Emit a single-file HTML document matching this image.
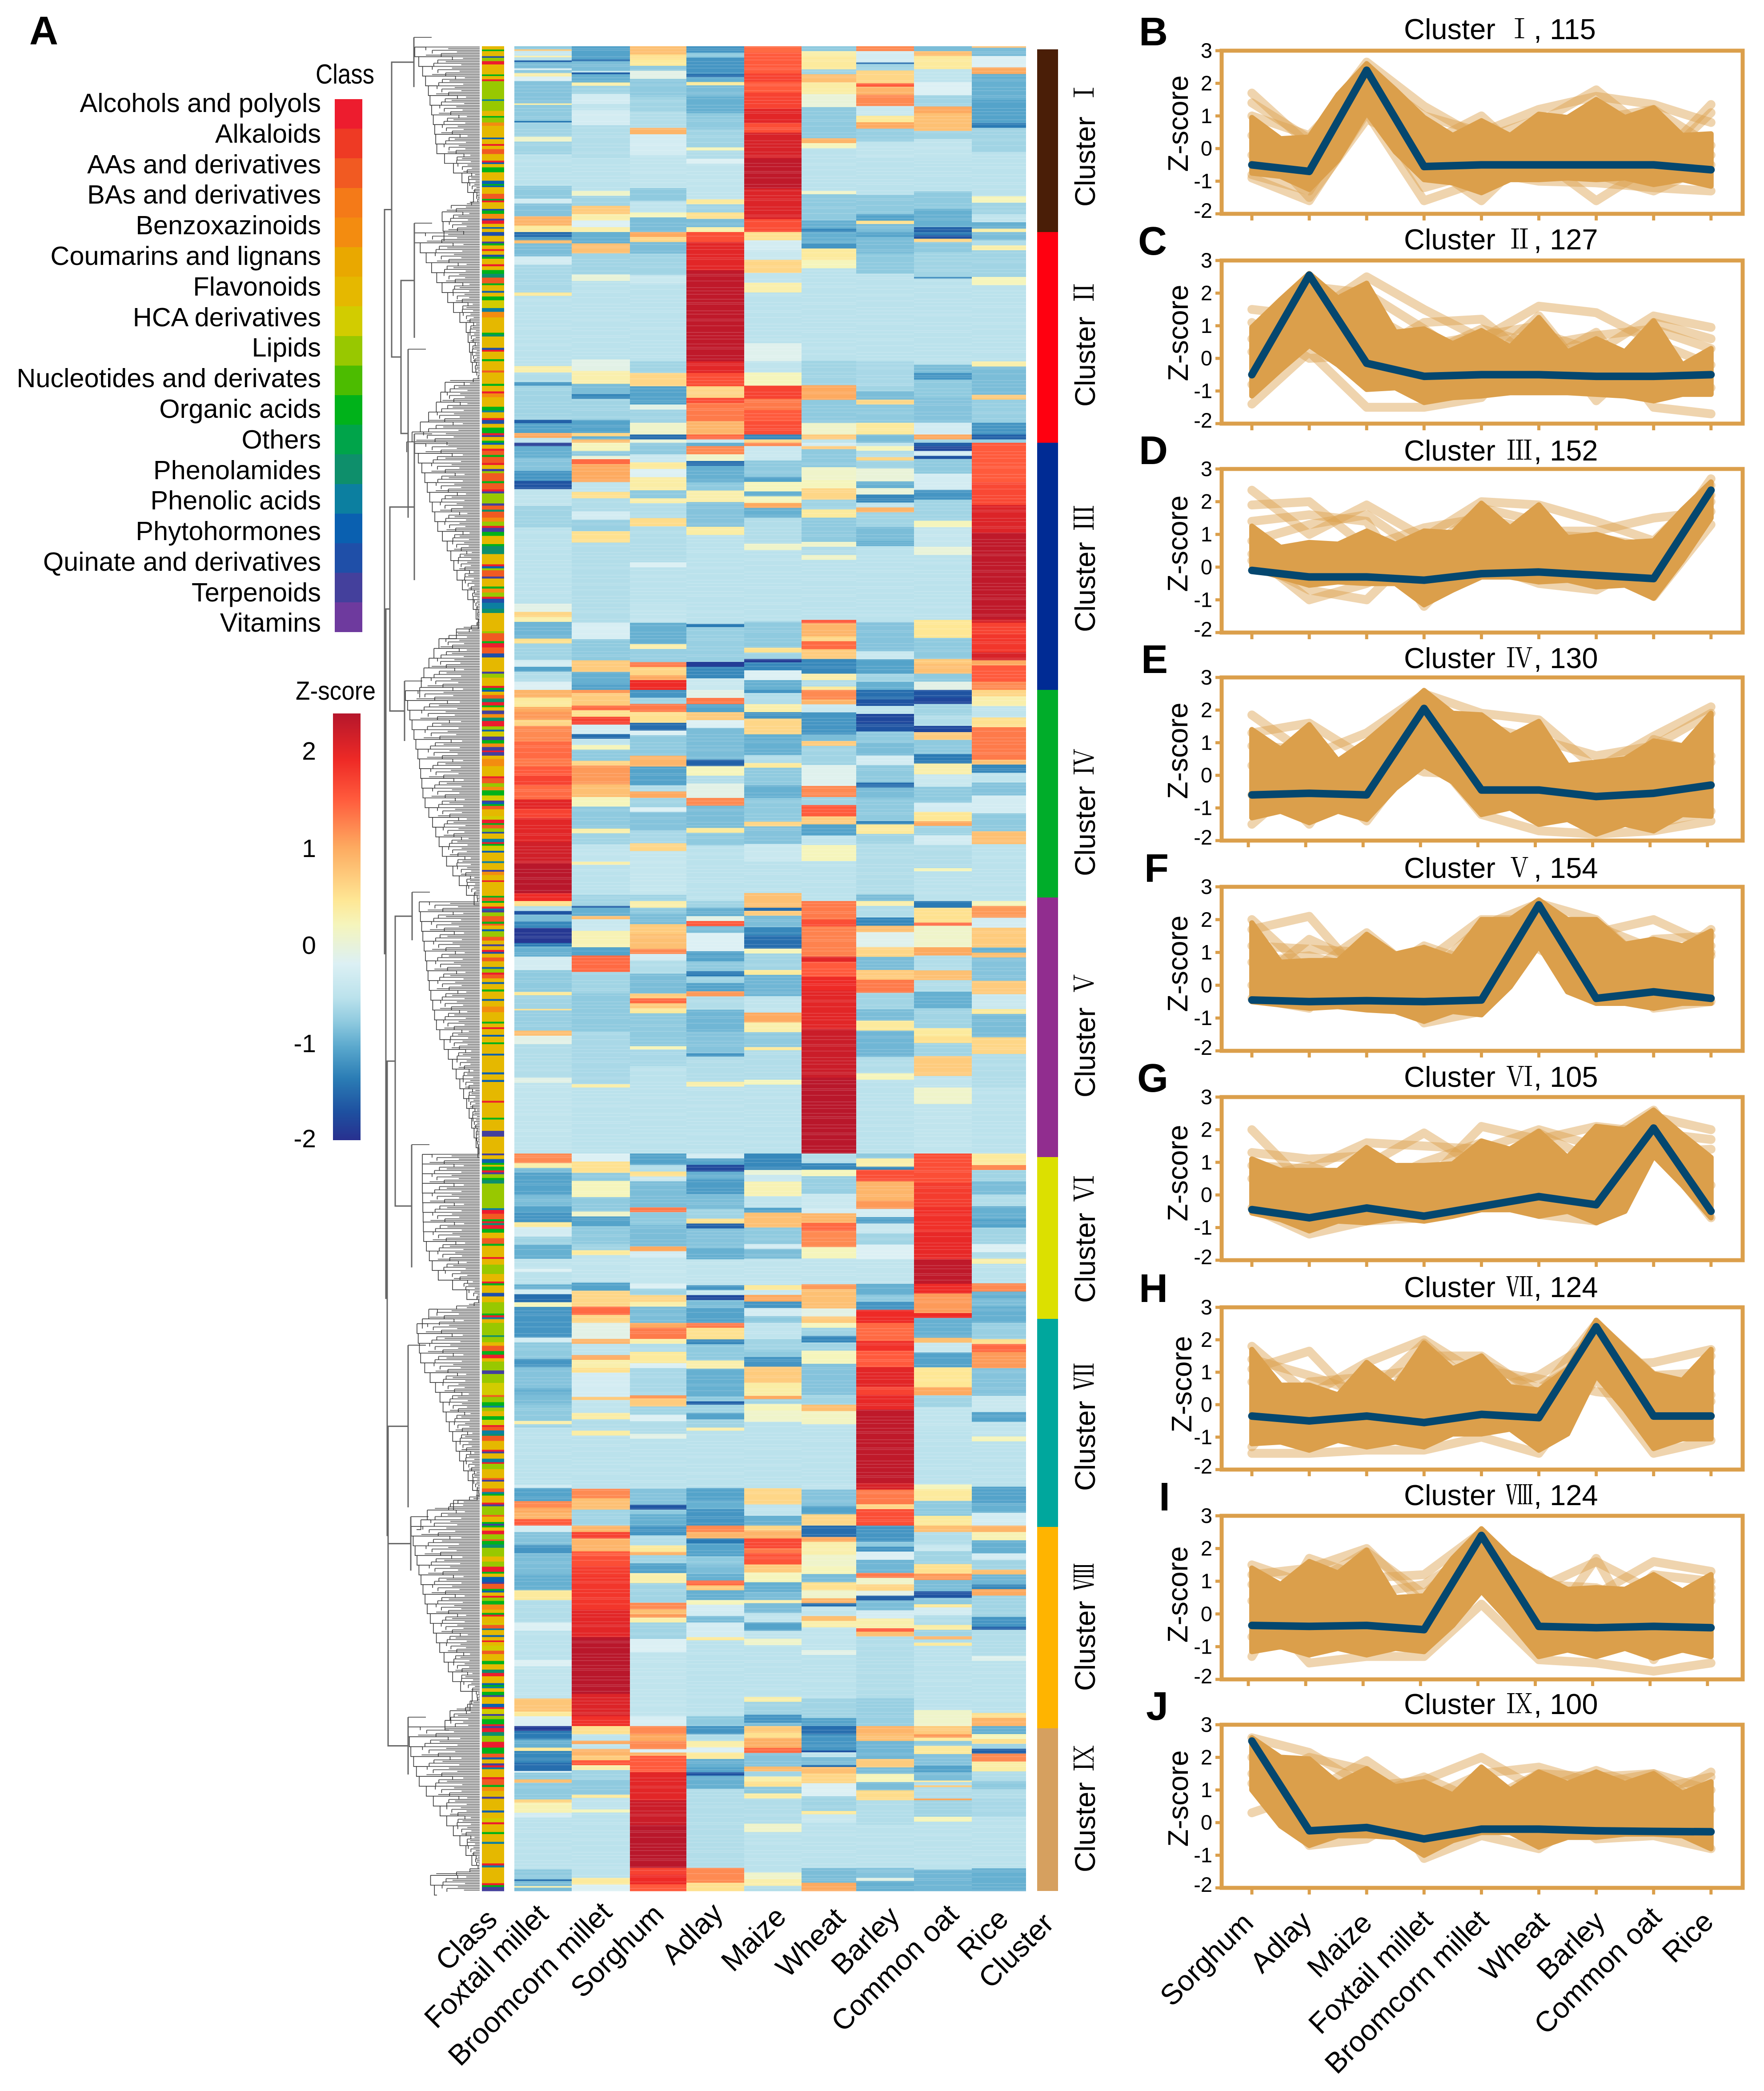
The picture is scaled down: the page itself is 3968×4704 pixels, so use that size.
<!DOCTYPE html>
<html lang="en">
<head>
<meta charset="utf-8">
<title>Metabolite clusters heatmap and Z-score profiles</title>
<style>
html,body{margin:0;padding:0;background:#fff;}
svg{display:block;}
text{font-family:"Liberation Sans","Noto Sans CJK SC",sans-serif;fill:#000;}
.roman{font-family:"Noto Serif CJK SC","Liberation Serif",serif;}
.letter{font-size:90px;font-weight:bold;}
.legend{font-size:59.5px;text-anchor:end;}
.title{font-size:65px;}
.ytitle{font-size:64px;text-anchor:middle;}
.rot{font-size:65px;text-anchor:end;}
.ztick{font-size:57px;text-anchor:end;}
</style>
</head>
<body>
<svg id="fig" xmlns="http://www.w3.org/2000/svg" width="3968" height="4704" viewBox="0 0 3968 4704">
<rect width="3968" height="4704" fill="#fff"/>
<g id="dendro"></g>
<g id="classStrip" shape-rendering="crispEdges"></g>
<g id="heat" shape-rendering="crispEdges"></g>
<g id="heatTexture"></g>
<g id="clusterBar" shape-rendering="crispEdges"></g>
<g id="classLegend" shape-rendering="crispEdges"></g>
<defs><linearGradient id="zGrad" x1="0" y1="0" x2="0" y2="1"></linearGradient></defs>
<rect x="749" y="1605" width="62" height="960" fill="url(#zGrad)"/>
<g id="panels"></g>

<g>
<text class="letter" x="66" y="100">A</text>
<text class="letter" x="2562" y="102">B</text>
<text class="letter" x="2560" y="573">C</text>
<text class="letter" x="2562" y="1044">D</text>
<text class="letter" x="2567" y="1514">E</text>
<text class="letter" x="2574" y="1984">F</text>
<text class="letter" x="2558" y="2456">G</text>
<text class="letter" x="2562" y="2929">H</text>
<text class="letter" x="2607" y="3398">I</text>
<text class="letter" x="2578" y="3869">J</text>
</g>

<g>
<text x="710" y="188" font-size="62" textLength="132" lengthAdjust="spacingAndGlyphs">Class</text>
<text class="legend" x="722" y="252">Alcohols and polyols</text>
<text class="legend" x="722" y="321">Alkaloids</text>
<text class="legend" x="722" y="390">AAs and derivatives</text>
<text class="legend" x="722" y="458">BAs and derivatives</text>
<text class="legend" x="722" y="527">Benzoxazinoids</text>
<text class="legend" x="722" y="596">Coumarins and lignans</text>
<text class="legend" x="722" y="665">Flavonoids</text>
<text class="legend" x="722" y="734">HCA derivatives</text>
<text class="legend" x="722" y="802">Lipids</text>
<text class="legend" x="722" y="871">Nucleotides and derivates</text>
<text class="legend" x="722" y="940">Organic acids</text>
<text class="legend" x="722" y="1009">Others</text>
<text class="legend" x="722" y="1078">Phenolamides</text>
<text class="legend" x="722" y="1146">Phenolic acids</text>
<text class="legend" x="722" y="1215">Phytohormones</text>
<text class="legend" x="722" y="1284">Quinate and derivatives</text>
<text class="legend" x="722" y="1353">Terpenoids</text>
<text class="legend" x="722" y="1421">Vitamins</text>
</g>

<g>
<text x="665" y="1574" font-size="58" textLength="180" lengthAdjust="spacingAndGlyphs">Z-score</text>
<text class="ztick" x="711" y="1709">2</text>
<text class="ztick" x="711" y="1928">1</text>
<text class="ztick" x="711" y="2146">0</text>
<text class="ztick" x="711" y="2367">-1</text>
<text class="ztick" x="711" y="2581">-2</text>
</g>

<g>
<text class="rot" transform="translate(1122,4322) rotate(-45)">Class</text>
<text class="rot" transform="translate(1237,4311) rotate(-45)">Foxtail millet</text>
<text class="rot" transform="translate(1380,4306) rotate(-45)">Broomcorn millet</text>
<text class="rot" transform="translate(1497,4311) rotate(-45)">Sorghum</text>
<text class="rot" transform="translate(1630,4308) rotate(-45)">Adlay</text>
<text class="rot" transform="translate(1772,4316) rotate(-45)">Maize</text>
<text class="rot" transform="translate(1905,4319) rotate(-45)">Wheat</text>
<text class="rot" transform="translate(2027,4316) rotate(-45)">Barley</text>
<text class="rot" transform="translate(2160,4311) rotate(-45)">Common oat</text>
<text class="rot" transform="translate(2272,4321) rotate(-45)">Rice</text>
<text class="rot" transform="translate(2374,4331) rotate(-45)">Cluster</text>
</g>

<g>
<text font-size="64" transform="translate(2463,465) rotate(-90)">Cluster</text>
<text class="roman" font-size="60" text-anchor="middle" transform="translate(2460,208) rotate(-90)">Ⅰ</text>
<text font-size="64" transform="translate(2463,915) rotate(-90)">Cluster</text>
<text class="roman" font-size="60" text-anchor="middle" transform="translate(2460,658) rotate(-90)">Ⅱ</text>
<text font-size="64" transform="translate(2463,1422) rotate(-90)">Cluster</text>
<text class="roman" font-size="60" text-anchor="middle" transform="translate(2460,1165) rotate(-90)">Ⅲ</text>
<text font-size="64" transform="translate(2463,1971) rotate(-90)">Cluster</text>
<text class="roman" font-size="60" text-anchor="middle" transform="translate(2460,1714) rotate(-90)">Ⅳ</text>
<text font-size="64" transform="translate(2463,2469) rotate(-90)">Cluster</text>
<text class="roman" font-size="60" text-anchor="middle" transform="translate(2460,2212) rotate(-90)">Ⅴ</text>
<text font-size="64" transform="translate(2463,2931) rotate(-90)">Cluster</text>
<text class="roman" font-size="60" text-anchor="middle" transform="translate(2460,2674) rotate(-90)">Ⅵ</text>
<text font-size="64" transform="translate(2463,3354) rotate(-90)">Cluster</text>
<text class="roman" font-size="60" text-anchor="middle" transform="translate(2460,3097) rotate(-90)">Ⅶ</text>
<text font-size="64" transform="translate(2463,3804) rotate(-90)">Cluster</text>
<text class="roman" font-size="60" text-anchor="middle" transform="translate(2460,3547) rotate(-90)">Ⅷ</text>
<text font-size="64" transform="translate(2463,4212) rotate(-90)">Cluster</text>
<text class="roman" font-size="60" text-anchor="middle" transform="translate(2460,3955) rotate(-90)">Ⅸ</text>
</g>

<g>
<text class="title" x="3158" y="88">Cluster</text><text class="roman" font-size="60" text-anchor="middle" x="3418" y="86">Ⅰ</text><text class="title" x="3450" y="88">, 115</text>
<text class="title" x="3158" y="561">Cluster</text><text class="roman" font-size="60" text-anchor="middle" x="3418" y="559">Ⅱ</text><text class="title" x="3450" y="561">, 127</text>
<text class="title" x="3158" y="1036">Cluster</text><text class="roman" font-size="60" text-anchor="middle" x="3418" y="1034">Ⅲ</text><text class="title" x="3450" y="1036">, 152</text>
<text class="title" x="3158" y="1503">Cluster</text><text class="roman" font-size="60" text-anchor="middle" x="3418" y="1501">Ⅳ</text><text class="title" x="3450" y="1503">, 130</text>
<text class="title" x="3158" y="1975">Cluster</text><text class="roman" font-size="60" text-anchor="middle" x="3418" y="1973">Ⅴ</text><text class="title" x="3450" y="1975">, 154</text>
<text class="title" x="3158" y="2445">Cluster</text><text class="roman" font-size="60" text-anchor="middle" x="3418" y="2443">Ⅵ</text><text class="title" x="3450" y="2445">, 105</text>
<text class="title" x="3158" y="2918">Cluster</text><text class="roman" font-size="60" text-anchor="middle" x="3418" y="2916">Ⅶ</text><text class="title" x="3450" y="2918">, 124</text>
<text class="title" x="3158" y="3386">Cluster</text><text class="roman" font-size="60" text-anchor="middle" x="3418" y="3384">Ⅷ</text><text class="title" x="3450" y="3386">, 124</text>
<text class="title" x="3158" y="3856">Cluster</text><text class="roman" font-size="60" text-anchor="middle" x="3418" y="3854">Ⅸ</text><text class="title" x="3450" y="3856">, 100</text>
</g>

<g>
<text class="ytitle" transform="translate(2672,278) rotate(-90)">Z-score</text>
<text class="ytitle" transform="translate(2672,749) rotate(-90)">Z-score</text>
<text class="ytitle" transform="translate(2671,1223) rotate(-90)">Z-score</text>
<text class="ytitle" transform="translate(2671,1689) rotate(-90)">Z-score</text>
<text class="ytitle" transform="translate(2671,2168) rotate(-90)">Z-score</text>
<text class="ytitle" transform="translate(2671,2639) rotate(-90)">Z-score</text>
<text class="ytitle" transform="translate(2680,3114) rotate(-90)">Z-score</text>
<text class="ytitle" transform="translate(2671,3587) rotate(-90)">Z-score</text>
<text class="ytitle" transform="translate(2672,4046) rotate(-90)">Z-score</text>
</g>

<g>
<text class="rot" transform="translate(2823,4330) rotate(-45)">Sorghum</text>
<text class="rot" transform="translate(2954,4327) rotate(-45)">Adlay</text>
<text class="rot" transform="translate(3090,4330) rotate(-45)">Maize</text>
<text class="rot" transform="translate(3226,4324) rotate(-45)">Foxtail millet</text>
<text class="rot" transform="translate(3352,4324) rotate(-45)">Broomcorn millet</text>
<text class="rot" transform="translate(3488,4327) rotate(-45)">Wheat</text>
<text class="rot" transform="translate(3614,4327) rotate(-45)">Barley</text>
<text class="rot" transform="translate(3741,4317) rotate(-45)">Common oat</text>
<text class="rot" transform="translate(3858,4327) rotate(-45)">Rice</text>
</g>
</svg>

<script>
// ===== Heatmap values: each column has nine clusters, each a flat list of z,rows pairs =====
const foxtailMillet = [
[-.8,2,.7,1,-.4,3,.3,1,-.6,2,-1.6,1,-.9,4,-.2,1,-.8,2,.3,2,-.2,3,-.85,14,.3,1,-.8,10,-1.4,1,-.7,9,.1,3,-.7,8,-.55,20,-.8,8,-.3,3,-.85,8,.9,6,.4,4],
[-1.5,3,-1.2,2,.8,2,-.9,8,-.3,5,-.65,17,.4,2,-.55,43,.3,4,-.6,6,-1.2,2,-.7,21,-1.6,2,-1.1,6,1,3,-.5,3],
[-1.9,2,-1,7,-.85,8,-1.2,6,-1.7,5,-.5,10,-.7,6,-.7,7,-.55,46,-.1,5,.6,3,.3,3,-.95,10,.5,3,-.7,10,-.3,4,-1.1,3,-.6,6,-.2,5],
[.9,5,.4,6,1,3,1.1,5,.6,4,1.2,6,1.2,4,1.4,11,1.3,5,1.5,6,1.7,6,1.4,9,2,6,1.7,6,2,15,2.15,14,2.35,19,1.9,5],
[.5,3,-.6,3,-1.7,2,-.9,4,-1.3,4,-1.95,9,-1.4,2,-1,6,-.3,8,-.8,13,.4,2,-.7,8,.5,1,-.75,12,.8,3,-.1,5,-.6,20,-.1,3,-.5,42],
[1.2,6,.3,3,-.9,3,-1.1,14,-.9,7,-1.1,4,-1.2,6,.4,3,-.3,6,-.7,5,-1,9,-.5,6,-.2,2,-.55,8,-1,3,-.3,3,-1.5,5,.2,3,-1.2,10],
[-1.2,9,-.3,3,-.8,10,-1.2,5,-.85,13,-1,4,-.9,6,-.8,10,.3,2,-.7,2,-.55,35,-.3,2,-1.1,8,1.2,4,1,3,.9,4,1.5,4],
[-.3,4,-.85,8,-1.2,5,-.9,13,-1,10,.4,6,-.6,14,-.2,5,-.55,18,-.2,4,-.5,20,.75,8,.4,3,-.2,6],
[-1.9,3,-1.4,1,-1.4,4,-1,5,.4,2,-1.3,7,-1.5,5,-.3,1,-.8,4,.8,2,-.8,10,.6,2,.25,6,-.3,3,-.55,31,-.8,6,-1.5,1,-.9,3,.3,1,-.9,2]
];
const broomcornMillet = [
[-1.1,8,-1.5,1,-.9,6,-.5,1,-1.6,1,-1,5,.3,2,-.7,5,-.3,6,-.5,4,-.3,9,-.6,10,-.6,10,-.55,20,.1,3,-.7,6,.7,5,.3,4,-.2,4,.3,3],
[-1,7,.8,6,-.7,13,0,4,-.55,48,-.1,7,.3,8,-.9,6,-1.3,3,-.7,13,-1.1,8,.6,2,-1,2,.8,2],
[.2,5,-.8,3,0,2,1.4,3,1,11,-.5,6,.5,4,-.6,8,-.3,5,-.75,7,.5,7,-.6,49,-.25,10,-.8,13,.7,7,-1,7,-1.1,4],
[1.1,2,.7,8,1.4,3,.5,4,1.7,5,-.3,6,-1.5,3,-.5,4,.2,3,-.8,7,.6,3,1.1,12,.8,8,.2,6,-.8,14,.3,3,-.7,7,-.5,11,.3,2,-.55,19,-.7,4],
[-.7,3,-1.6,1,-1,5,.8,2,-.4,7,.25,10,-1.1,5,1.4,10,-.7,13,-.8,23,-.65,32,.3,2,-.55,40],
[-.2,5,.5,7,-.8,5,.2,10,-.8,9,.1,3,-1.1,6,-.8,11,-.7,4,.4,3,-.5,17,-1.1,5,.6,10,1.4,5,.6,5],
[-.1,10,.9,3,-.5,7,1,3,.3,5,.5,3,-.3,15,.7,2,-.5,8,.35,4,-.6,7,.35,3,-.55,33,1.2,6,.8,7,-.7,10],
[.9,4,1.7,4,.9,8,1.5,3,1.6,6,1.75,6,1.8,15,1.8,6,2,17,2.35,35,2.05,14,1.85,6],
[.5,5,-.5,4,1,2,-.5,3,.9,4,.7,3,1.5,3,.3,3,-.7,6,-.8,9,.4,2,-.5,7,.2,2,-.55,40,.4,4,-.2,4]
];
const sorghum = [
[.8,5,.5,3,.4,4,-.8,3,-.1,5,-.8,11,-.7,9,-.6,10,.9,4,-.3,13,-.5,20,-.8,8,-.5,7,.2,3,-.9,9],
[1,3,.6,3,-.9,7,-.7,13,-.4,5,-.55,47,-.7,7,.6,8,-1.1,11,-.1,3,-.7,8,.1,7,-1.5,3,0,2],
[-.8,7,-.4,5,.4,4,-.2,5,.35,8,-.8,5,.3,3,-.6,9,.55,5,-.6,22,-.2,3,-.55,23,-.5,11,-1,13,.3,3,-.75,8,1.3,3,.6,5,1,3,1.9,6],
[-1.2,5,-.7,4,1.3,5,.5,7,-1.5,5,-.2,3,-.8,13,.9,7,-1.1,12,-.6,4,1,4,-.7,6,-.2,3,-.85,12,-.65,8,.6,5,-.45,28,-.7,4],
[.3,4,-.8,4,-.9,6,.7,6,.8,9,1.2,3,-.3,4,-.6,8,-.9,12,.7,3,1.4,3,.7,3,.4,3,-.8,20,.2,2,-.65,10,-.55,53],
[-1.1,7,-.6,4,.5,3,-.4,3,-.9,16,1.3,3,-.8,8,-.9,13,1,3,-.3,4,-.45,16,-.2,3,-.7,4,.6,4,.3,3,-.9,10],
[1,3,1.3,7,.3,3,-.6,5,.4,7,-.2,3,-.65,17,1.1,2,.7,5,-.7,5,-.2,4,-.6,8,-.1,3,-.55,31,-.85,10,-1.7,3,-.8,3,-1,7],
[-1.2,6,-.6,6,.4,4,.9,2,-.7,5,-1.1,6,.3,6,-.7,12,1.2,4,.8,3,1.1,2,.3,3,-.7,10,-.2,8,-.5,39,-.25,6],
[1.2,5,1,4,1.2,5,-.2,2,.9,2,1.5,10,2,17,2.2,15,2.35,26,1.7,4,1.9,6,1.5,4]
];
const adlay = [
[-1.2,4,-.8,3,-1.2,10,-1.5,2,-1,3,.4,2,-.9,7,-1,10,-.8,10,-.7,11,.2,2,-.6,5,-.2,3,-.5,22,.4,3,-.7,5,.5,4,-.9,5,.3,3],
[1.6,6,2,17,2.3,55,2,7,1.6,8,.6,7,1.6,3,1.3,11,.9,8,1.4,3,-.4,2],
[-1,2,1.2,5,.1,4,-1.5,3,-1,10,-.8,5,.3,7,-.85,15,.35,5,-.55,54,-1.4,2,-.75,21,-1.9,3,-1.3,7,-.4,7],
[-.1,5,1.3,4,-1.1,5,.7,5,-.2,5,-.9,11,-.9,9,-1.6,4,.2,6,-.6,5,-.1,9,1.2,5,-.9,14,.4,3,-.8,8,-.55,35],
[-.7,4,-1,5,-.1,3,1.5,3,-.9,4,-.2,11,-1.1,6,-.8,6,-1.4,3,-.7,4,-1.1,5,1.1,3,-.6,8,-.95,13,-.85,13,-1.2,2,-.6,15,.3,3,-.55,40],
[-.3,3,-1.1,4,-1.8,4,-1,5,-1.15,9,-.9,9,-.7,6,.5,3,-1.6,3,-.85,12,-1,7,-.5,16,-1.2,3,-.4,3,-1.8,3,-.9,5,-1.1,9],
[1.3,3,.5,7,-1.3,3,-.8,10,.3,5,-1,12,-1,5,-.8,3,-1.6,2,-.7,5,-1.1,4,-.7,5,.3,2,-.55,35,-1.1,8,-1,5,-1.2,10],
[1.2,4,.9,4,-1.4,3,-1.1,8,-.8,5,-.9,6,-1,4,1.4,3,.7,3,-1,6,.2,3,-.3,7,-.9,4,-.3,9,.4,2,-.55,47,-.8,6],
[-1.2,5,-.6,4,.3,4,-.2,3,.4,4,-1,5,-1.1,3,-1.7,2,-1,8,-.6,48,1.2,9,.5,5]
];
const maize = [
[1.4,4,1.5,4,1.5,9,1.7,5,1.5,7,1.7,10,2,9,1.6,6,2.1,16,2.3,19,2.05,19,1.6,8],
[.5,5,-.3,6,-.4,6,.6,8,-.5,6,.3,6,-.55,31,-.15,11,-.5,7,.2,8,1.7,8,1.3,7,1.5,7,1.6,8,-1.3,3,.6,2],
[1.2,2,-.4,9,-.8,10,-1.1,3,.2,6,-1,3,.2,4,1,3,-1,6,-.6,16,.1,4,-.55,44,-.8,16,.5,3,-.7,4,-1.9,2,-1.3,5,-.2,6,-1,6],
[-1.2,2,-.6,7,.3,5,-1.2,4,.6,10,-1,13,-.6,5,.4,3,-.8,11,-1,8,-.8,15,.6,3,-.85,11,-.4,11,-.55,20,.8,5],
[.8,4,-1.5,2,.7,3,-.9,7,-1.3,5,-1.5,8,.2,3,-.7,10,.4,3,-.95,13,-.5,10,1,6,.3,6,-.8,9,.4,2,-.6,18,.2,3,-.55,42],
[-1.3,10,0,3,-.4,4,.25,9,-.5,7,-1.1,3,.8,9,-.8,10,-.3,3,-.9,6,-.5,16,.4,3,-.4,3,1,4,-1.2,4,-.3,5,-.8,4],
[-.5,3,-.5,7,-.7,7,-.8,4,-1.2,6,.7,10,.35,8,1,2,-.7,3,.2,4,.1,7,-.55,41,.6,10,-.5,7,-1,6],
[.6,3,.9,5,1.65,6,1.3,3,1.55,7,.7,5,.2,6,-1,6,-.9,5,.3,2,-.9,6,-.5,6,-1.1,5,-.5,5,.1,4,-.55,32,.3,3,-.7,8,-1.2,5,-.9,2],
[.7,4,.5,3,.95,6,1.4,3,-.85,8,.85,3,-.7,3,.3,3,.5,3,-.8,4,.35,3,-.6,15,.1,5,-.55,24,.1,4,.3,4,-.6,3]
];
const wheat = [
[-.8,3,.3,3,.4,8,-.7,3,.8,5,.35,7,0,8,-.8,19,.9,3,.2,3,-.55,26,.1,2,-.8,16,-1,5,-1.3,2],
[-1,7,-1.2,3,.4,7,.2,5,-.55,56,-.7,15,1,9,-.8,14,.1,7,.7,3,-.5,2],
[-.3,2,.7,2,-.8,11,.1,8,.2,5,.6,7,-.7,6,.4,5,-.8,15,.1,3,-.6,5,.1,3,-.55,37,1.5,2,.9,8,.6,3,1.4,5,.7,6,-1.3,9,.3,4,-.6,4,.4,2],
[1.2,6,.9,3,-.4,5,-1.2,14,-.9,4,.7,3,-.7,12,-.15,13,1.2,7,-.7,5,1.5,7,.7,5,-1.1,7,-.5,6,.2,10,-.55,25],
[1.3,11,1.6,4,1.25,18,2,3,1.5,9,1.9,8,2,23,2.2,29,2.35,45],
[-.6,6,-1.3,4,.2,4,-.75,11,-.4,9,-.3,3,.9,6,1.4,5,1.2,10,.2,7,-.5,16,1.1,3,.8,12,-.1,5,.7,4],
[.2,3,-.7,5,-1.3,4,-.7,5,.2,8,-.85,19,-.7,6,.8,4,.15,8,-.55,37,-.5,3,-.85,10,-1.1,5,.6,7],
[-1.5,7,1,3,.3,8,.1,7,.2,5,-.9,5,.5,5,.1,5,.9,3,-1.5,2,-.5,6,.8,3,.3,4,-.5,14,-.1,3,-.55,27,-.7,12,-1.1,5],
[-1.5,5,-1.2,2,-1.2,8,-1.7,1,-.5,3,-.9,5,-1.5,1,.8,4,.6,6,-.2,8,-.7,9,.4,2,-.4,5,-.55,28,-.9,9,1,5]
];
const barley = [
[1.2,3,-.3,7,-1.5,1,-.7,4,.6,3,.6,5,1.5,2,.9,5,1.2,7,-.4,6,.4,4,1,4,-.75,8,-.5,10,-.55,23,-.8,12,-1.1,4,.5,2,-.9,5],
[-1.1,3,-.9,10,-.8,12,-.55,53,-.65,15,-.7,3,-.9,5,.6,3,-.8,11,.4,7,-.9,5],
[-.5,2,.2,3,-.6,4,.6,2,-.7,5,0,8,-1,4,0,4,-1.3,5,-.5,3,.9,3,-.7,9,-.9,9,-1,3,-.55,47,-.85,18,-.4,5,-1.1,9,-.7,5,-1,5],
[-1.5,6,-1.7,4,-.5,5,-1.8,6,-1.7,5,-.8,7,-.9,8,-.3,6,-.8,11,-1.5,3,-.9,7,-.8,14,-1.3,2,.4,6,-.7,6,-.6,32,-.9,4],
[.3,3,-.6,7,-1.3,5,.8,4,-.15,9,.6,6,-.9,8,.7,6,1.3,8,-.7,10,-.9,7,.4,6,-.95,16,-.6,10,.2,4,-.55,45],
[-.8,3,.3,5,-1.3,2,1.6,7,.9,12,1.1,5,-.3,5,-1.1,4,-.4,6,-.7,7,-.2,9,-.5,15,-1,7,-.8,4,-1.2,5,1.9,8],
[1.4,11,1.85,6,1.5,10,2,12,1.7,5,1.95,9,2.3,45,2.1,4,1.3,9,.6,3,1.6,10],
[-1.2,10,-.8,3,-1.2,3,-.2,5,-.95,8,1.3,3,.1,4,.6,4,-.1,3,-1.6,3,-.9,6,-.3,5,.3,6,1.5,2,.8,3,-.6,38,-.75,17],
[.9,5,.8,4,-.95,11,.7,5,-.9,4,.2,5,-.9,5,.55,6,-.6,15,-.55,26,-.85,6,-.1,2,-1,6]
];
const commonOat = [
[-.9,3,.8,3,.4,8,-.5,8,-.2,8,-.7,7,1,4,.8,11,-.7,5,-.5,12,-.55,20,-.8,11,-1,11,-1.6,3],
[-1.4,2,-1.7,2,.6,2,-.8,6,-.7,15,-1.3,1,-.55,52,-.9,5,-1.2,4,-.8,11,-.85,15,-.3,7,1,3,-.7,2],
[-1.6,2,-1.8,3,-.3,3,-1.7,2,-.8,9,-.3,6,-.3,4,-1.2,6,-.7,13,.2,4,-.45,12,0,5,-.55,40,.45,11,-.8,13,.7,3,.8,6,-.8,5,-.1,5],
[-1.7,5,-1.8,4,-.7,7,-.6,7,-1.8,4,.7,5,-.8,9,-1.4,6,.3,7,-.4,8,-.8,10,-.3,6,.45,6,1,3,-.7,6,-.3,6,-.6,15,.2,2,-.55,19],
[-1.4,4,.5,9,1.4,2,.1,13,1,5,-.6,9,.8,6,-.6,7,-1,10,-.7,12,.4,5,.5,4,-.7,8,.7,12,-.5,7,.1,10,-.5,30],
[1.6,18,1.75,15,1.85,15,1.95,17,2.3,15,1.9,6,1.1,12,1.9,3,-1,3],
[-1,9,.8,3,-.4,6,-1.1,9,.45,12,1,5,-.7,7,-.5,14,-.55,33,.2,3,.4,7,-.8,9,.4,6],
[.8,4,-.6,8,-.4,4,-.7,8,.5,6,1.1,4,-.9,7,-1.7,4,-.8,4,.4,2,-.3,5,-.6,6,.35,3,-.7,4,.9,2,-.6,2,.4,2,-.55,40,.1,10],
[.7,5,1.1,2,.4,2,-.8,3,.4,5,-.85,7,-1.1,4,-.9,5,.4,1,-.6,2,.7,1,-.6,7,1,1,-.7,10,.2,3,-.55,29,-.95,13]
];
const rice = [
[.8,1,-.9,5,-.2,7,1,4,-1,16,-1.1,14,-1.4,3,-.7,15,-.55,27,.2,4,-.7,7,-.5,5,-1,4,.3,2],
[-.9,5,-.6,3,.3,3,-.7,7,-.7,9,.2,5,-.55,46,.3,3,-.9,17,.7,3,-.75,14,-1.2,7,-1.6,3,-.8,2],
[1.5,9,1.5,15,1.65,14,2.05,17,2.3,53,2.1,2,1.7,7,1.8,11,2.1,5,1,3,1.5,10,1.2,5],
[.6,4,.3,6,-.5,7,.5,6,1.3,20,.8,3,-1.3,5,-.5,6,-.85,8,-.3,11,-.8,11,.8,8,-.55,35],
[.2,3,1.1,7,-.3,6,.7,12,-1,3,.8,3,-.85,14,.7,8,-.4,9,.4,3,-.9,14,.6,10,-.6,20,-.55,40],
[.4,7,1.2,3,-.7,7,-.9,8,-.6,7,-1,8,-1.1,5,-.7,10,-.2,5,-.6,4,.3,3,-.55,12,1.2,5,-1,4,-.9,5,-1,10],
[-.75,10,.5,3,1.4,5,1.1,10,-.85,17,-.4,10,-1.1,6,-.5,9,.2,3,-.55,28,-1.1,10,-1,6,-.3,8],
[.9,4,.25,5,-1,8,-.3,4,-.7,6,.8,3,-.95,6,-1.3,3,1,4,-.7,13,-1.2,6,-1.6,2,-.6,16,-.15,3,-.55,32,.5,3,.9,5],
[-1,5,.2,3,.5,3,-.7,3,-1.6,3,1.2,5,.35,6,-.6,6,-.8,5,-.6,6,-.65,11,-.55,32,-1,14]
];
const heatColumns = [foxtailMillet, broomcornMillet, sorghum, adlay, maize, wheat, barley, commonOat, rice];

// ===== Colour scale stops =====
const zStops = [2.38,1.9,1.5,1,.45,.2,-.2,-.55,-.8,-1.06,-1.38,-1.73,-2.02];

// ===== Class annotation: class index,rows pairs per cluster =====
const classBands = [
[6,2,10,1,6,3,15,1,8,2,0,2,6,6,10,1,6,2,0,1,8,11,13,1,8,6,6,3,10,1,8,3,4,2,6,3,6,4,14,1,6,3,0,1,6,2,2,3,6,4,0,1,14,1,6,2,10,3,6,5,14,2,10,1,14,1,6,4,2,3,10,1,0,1,6,4,15,1,10,2,4,3,16,1,0,2,6,2,14,1,6,2],
[15,2,6,3,16,1,10,1,6,2,0,1,6,2,15,1,10,1,6,3,0,1,6,2,10,2,12,2,2,3,10,1,6,3,14,1,6,2,10,2,7,4,13,2,4,3,6,8,10,1,12,1,6,6,15,1,0,1,6,4,10,1,6,5,2,1,6,6,10,1,6,3,0,1,4,2,6,5,10,2,13,1,6,3,0,1,15,2,6,2,10,3,0,1,16,1,6,2,10,1],
[14,1,6,2,0,1,2,2,10,1,2,3,0,1,6,2,16,1,8,1,2,4,10,1,2,3,0,1,16,1,8,5,16,1,2,2,12,1,2,3,4,2,8,2,0,1,16,2,10,2,6,4,10,1,12,4,6,5,0,1,14,1,8,1,2,3,16,1,6,4,10,1,4,2,8,2,0,1,15,2,13,3,12,2,6,4,6,5,8,1,2,4,10,1,0,2,2,3,15,2,6,4,6,3,16,1,8,2,6,4,0,1,10,1],
[14,1,6,2,2,2,12,2,0,2,10,1,6,2,16,2,4,2,12,2,0,3,8,2,14,1,7,3,16,2,10,2,4,2,16,2,0,1,16,2,6,2,4,4,6,6,0,1,2,3,8,2,4,2,10,3,7,3,16,1,14,1,10,1,2,2,6,4,7,2,0,2,10,1,2,2,8,2,15,1,6,3,13,2,0,1,10,1,7,3,14,1,6,5,13,1,6,4,16,1,4,2,6,3,0,1,6,8,10,1,2,2],
[10,1,6,2,0,1,13,1,16,1,8,2,2,3,10,1,2,1,6,2,14,1,8,3,2,2,6,2,16,1,6,2,0,1,15,1,6,2,2,2,6,3,14,1,8,2,0,1,2,2,6,2,14,1,6,3,10,1,6,4,14,1,6,3,4,3,6,5,10,1,6,2,0,1,6,3,14,1,6,3,10,1,6,5,14,1,6,9,14,1,6,3,14,1,6,10,0,1,6,8,10,1,6,6,16,3,6,9],
[16,1,6,2,14,2,10,1,6,1,10,2,0,1,16,1,8,2,10,1,12,2,8,13,13,1,0,2,2,3,10,1,0,1,12,1,0,2,10,2,6,3,2,3,10,1,6,6,0,1,6,3,8,5,6,4,0,1,10,1,6,4,15,2,6,3,8,6,10,1,0,1,13,1,6,2],
[8,7,12,1,8,3,6,2,2,3,10,2,0,2,6,2,8,5,16,2,8,5,7,7,2,1,8,3,10,2,13,1,8,2,6,3,10,2,7,3,0,1,2,2,13,2,12,1,2,3,6,5,0,1,16,1,6,3,13,2,0,1,8,3,6,5,2,1,16,1,6,4,2,2,13,1,10,1,6,4,0,1,16,1,8,5,2,1,6,3,10,1,16,1],
[10,1,6,2,0,2,8,3,2,1,10,2,12,2,8,5,6,3,8,3,0,3,10,1,6,2,14,3,16,1,2,3,10,1,14,1,6,2,0,1,8,2,10,2,4,3,6,2,10,1,0,1,6,4,7,1,2,2,13,1,6,3,14,1,6,2,0,1,6,2,7,3,2,2,6,4,10,2,6,3,12,2,0,2,6,4,14,1,10,1,13,1,6,2,10,2,16,1,6,4,14,2,0,1,7,3,16,1,8,2,10,3,0,1],
[16,1,0,2,12,2,8,3,0,3,10,3,2,2,14,1,6,2,16,1,0,1,13,1,6,4,0,1,2,3,10,1,4,2,6,3,16,1,6,6,14,1,6,3,7,2,0,1,6,4,10,1,6,4,13,1,6,10,0,1,13,1,6,8,0,1,10,1,16,2]
];

// ===== Dendrogram merge heights =====
const clusterRowCounts = [115,127,152,130,154,105,124,124,100];
const dendroProfileI = [[0,146],[.1,129],[.2,116],[.4,102],[.53,96],[.6,69],[.67,42],[.83,2],[.85,86],[1,80]];
const dendroProfileII = [[0,147],[.11,116],[.22,89],[.32,62],[.43,29],[.62,16],[.69,2],[.7,76],[.81,99],[.97,162],[1,165]];
const dendroProfileIII = [[0,146],[.1,126],[.2,112],[.31,96],[.41,69],[.51,52],[.64,12],[.72,2],[.77,86],[.92,129],[1,136]];
const dendroProfileIV = [[0,167],[.14,152],[.31,136],[.49,126],[.6,106],[.77,79],[.89,42],[1,1]];
const dendroProfileV = [[0,136],[.1,129],[.33,112],[.48,96],[.62,62],[.76,32],[.9,12],[1,1]];
const dendroProfileVI = [[0,129],[.17,129],[.46,126],[.67,102],[.83,12],[.87,2],[.92,129],[1,129]];
const dendroProfileVII = [[0,141],[.16,132],[.32,92],[.48,69],[.65,42],[.84,2],[.9,112],[1,142]];
const dendroProfileVIII = [[0,154],[.2,136],[.38,119],[.57,92],[.75,56],[.85,2],[.94,86],[1,69]];
const dendroProfileIX = [[0,161],[.11,156],[.3,136],[.44,99],[.67,42],[.85,2],[.89,112],[1,96]];
const dendroProfiles = [dendroProfileI,dendroProfileII,dendroProfileIII,dendroProfileIV,dendroProfileV,dendroProfileVI,dendroProfileVII,dendroProfileVIII,dendroProfileIX];
const leafStagger = [.2,.6,.3,.75,.45,.15,.65,.85,.35,.5,.25,.8];
const dendroTree = {h:214,
  a:{h:198,a:{c:0,f:.086,h:148},b:{h:177,a:{c:1,f:.23,h:147},b:{c:1,f:.956,h:161}}},
  b:{h:211,
     a:{h:202,a:{c:2,f:.26,h:147},b:{c:3,f:.1,h:169}},
     b:{h:208,
        a:{h:190,a:{c:4,f:.06,h:152},b:{c:5,f:.31,h:153}},
        b:{h:206,a:{c:6,f:.51,h:161},b:{h:206,a:{c:7,f:.09,h:155},b:{c:8,f:.12,h:161}}}}}};

// ===== Profile panels: x order Sorghum, Adlay, Maize, Foxtail millet, Broomcorn millet, Wheat, Barley, Common oat, Rice =====
const yTickLabels = ['3','2','1','0','-1','-2'];
const yTickValues = [3,2,1,0,-1,-2];

const meanB = [-.5,-.7,2.4,-.55,-.5,-.5,-.5,-.5,-.65];
const upperB = [.95,.35,2.6,.95,.85,1.05,1.5,1.25,.45];
const upperGapB = [.3,1.65,1.8,.4,.4,.95,.95,.4];
const lowerB = [-.75,-1.25,1.1,-.95,-1.35,-.95,-.95,-1.1,-1.15];
const lowerGapB = [-.85,-.35,-.1,-1.05,-.95,-.9,-.9,-.95];
const linesB1 = [1.7,.1,2.5,.6,-.1,.8,1.8,.4,-.2];
const linesB2 = [1.4,.3,2.65,1.3,.3,.9,.9,1.2,.1];
const linesB3 = [-.9,-1.6,1.1,-1.6,-1,-.3,-1.6,-.5,1.35];
const linesB4 = [.4,-1.5,.9,.1,1,-.6,-.8,-1.3,-.5];
const linesB5 = [-.2,-.6,2,-.4,-1.6,.1,0,-.6,1.1];
const linesB6 = [1,.4,2.3,1,.5,1.2,1.6,1.35,.8];
const linesB7 = [-.8,-1.3,1.4,-1.2,-.7,-1,-1.05,-1.2,-1.3];

const meanC = [-.5,2.55,-.15,-.55,-.5,-.5,-.55,-.55,-.5];
const upperC = [.95,2.6,2.3,.9,.85,1.25,.6,1.15,.3];
const upperGapC = [1.8,1.85,.8,.45,.35,.2,.2,-.2];
const lowerC = [-1.15,.4,-.95,-1.35,-1.15,-1.05,-1.1,-1.3,-1.1];
const lowerGapC = [-.35,-.2,-.9,-1.2,-1.05,-1.05,-1.15,-1.1];
const linesC1 = [1.5,1.3,2.5,1.5,.6,1.6,1.4,.5,-.2];
const linesC2 = [-1.4,.2,-1.5,-1.5,-1.2,.8,.2,1.3,.95];
const linesC3 = [1.1,0,.1,1.1,1.2,-.2,.8,-1.5,-1.7];
const linesC4 = [.2,2.2,2,.9,-.3,1.3,-.9,1.1,.6];
const linesC5 = [-.8,.5,-.2,.1,.9,.4,.7,.9,.3];
const linesC6 = [.6,1.5,1.4,.4,.7,1,-1.3,.3,-.9];

const meanD = [-.1,-.3,-.3,-.4,-.2,-.15,-.25,-.35,2.35];
const upperD = [1.25,.75,1.1,1.1,1.95,1.9,1,.8,2.6];
const upperGapD = [.6,.7,.7,1.05,1.2,.9,.75,1.75];
const lowerD = [-.05,-.55,-.5,-1.15,-.3,-.45,-.6,-.95,1.5];
const lowerGapD = [-.3,-.45,-.5,-.7,-.3,-.4,-.55,.2];
const linesD1 = [2.35,1,1.9,.9,2,1.9,1.4,.8,2.5];
const linesD2 = [1.9,2,.6,1.2,1.5,1.1,1.1,1.5,1.7];
const linesD3 = [.4,-1,-.5,.3,.1,-.5,-.7,.2,2.7];
const linesD4 = [1.4,1.6,1.4,-1.2,.6,.5,.4,-.9,1.3];
const linesD5 = [.2,-.7,-1,.7,1,1,.9,.6,2.2];
const linesD6 = [.8,1.3,1.6,.4,1.8,1.4,.2,.4,2];

const meanE = [-.6,-.55,-.6,2.05,-.45,-.45,-.65,-.55,-.3];
const upperE = [1.4,1.55,1.05,2.6,1.85,1.65,.4,1.05,1.9];
const upperGapE = [.8,.45,1.8,1.9,1.2,.3,.5,.9];
const lowerE = [-1.3,-1.45,-1.35,.3,-1.2,-1.5,-1.8,-1.7,-1.25];
const lowerGapE = [-1.1,-1.1,-.4,-.2,-1,-1.35,-1.5,-1.2];
const linesE1 = [1.85,.6,1.3,2.5,1.9,1.7,.2,1.2,2.1];
const linesE2 = [-1.5,0,-1.4,.9,-1.2,-1.7,-1.8,-1.7,-1.4];
const linesE3 = [1.3,1.6,.5,2,1.5,1.1,.6,.9,1.9];
const linesE4 = [.3,-1.5,.8,.1,0,-1,-.2,-.4,.4];
const linesE5 = [.9,.8,-.2,2.2,.6,.9,-1.2,1.1,.6];
const linesE6 = [-.6,.4,-1.1,1.5,1,-.5,-.8,-1.5,-1.1];

const meanF = [-.45,-.5,-.47,-.5,-.45,2.45,-.4,-.2,-.4];
const upperF = [1.9,.75,1.55,1.15,2,2.6,2,1.4,1.65];
const upperGapF = [.7,.75,.95,.85,2,2,1.25,1.2];
const lowerF = [-.5,-.7,-.75,-1.1,-.9,1.2,-.55,-.7,-.55];
const lowerGapF = [-.6,-.65,-.8,-.8,-.05,-.2,-.55,-.55];
const linesF1 = [2,.4,1.6,.2,1.8,2.5,2,.4,1.7];
const linesF2 = [1.7,2.1,.1,1.2,.6,2.2,1.6,2,1.2];
const linesF3 = [0,1.4,.6,-1.15,-.8,1.3,1,-.7,-.5];
const linesF4 = [1.2,1.1,1,.7,2,2,1.8,1.1,.9];
const linesF5 = [-.4,-.7,1.4,-.3,1.2,1.1,.2,1.4,1.5];
const linesF6 = [.7,.9,.4,1.1,.4,1.7,1.2,.8,1];

const meanG = [-.45,-.7,-.4,-.65,-.35,-.05,-.3,2.05,-.5];
const upperG = [1.1,.75,1.45,.9,1.65,1.95,2.1,2.6,1.15];
const upperGapG = [.75,.75,.9,.95,1.4,1.15,2,1.85];
const lowerG = [-.55,-1.1,-.85,-.8,-.45,-.65,-.85,1.2,-.7];
const lowerGapG = [-.75,-.8,-.7,-.65,-.45,-.5,-.5,.3];
const linesG1 = [2,.2,.9,1.9,.8,1.9,1,2.4,2];
const linesG2 = [1.3,1.1,1.2,.3,2.1,1.7,2.1,1.9,1.7];
const linesG3 = [-.4,-1.2,-.8,-.7,0,-.6,-.8,1.5,-.7];
const linesG4 = [.9,.8,1.6,1.5,1.4,2,1.5,2.6,.3];
const linesG5 = [.5,.9,.2,1,1.6,1,.6,1.3,1.4];

const meanH = [-.35,-.5,-.35,-.55,-.3,-.4,2.4,-.35,-.35];
const upperH = [1.7,.6,1.3,1.9,1.5,.45,2.6,.95,1.7];
const upperGapH = [.6,.3,.6,1.1,.55,1.1,1.75,.75];
const lowerH = [-1.2,-1.4,-1.3,-1.3,-.9,-1.4,.9,-1.35,-1.05];
const lowerGapH = [-1.15,-1.1,-1.15,-.9,-.75,-.9,-.15,-1.05];
const linesH1 = [1.8,.3,1.3,2,.9,0,1.2,1.3,1.7];
const linesH2 = [1.1,1.65,-.2,1.5,1.5,.3,2.5,.9,1];
const linesH3 = [-1.5,-1.5,-1.4,-1.4,-1,-1.5,.8,-1.5,-1.1];
const linesH4 = [-1.3,.7,.85,1.1,1.05,.8,.4,.2,.3];
const linesH5 = [.7,-.9,1,0,1.3,.5,1.6,-1.2,1.5];
const linesH6 = [1.4,.9,.3,1.9,.4,.9,2,.4,.1];

const meanI = [-.35,-.38,-.35,-.48,2.4,-.38,-.42,-.38,-.42];
const upperI = [1.4,1.6,1.95,.55,2.6,1.2,.8,1.2,1.2];
const upperGapI = [.9,1.25,.5,1.7,1.75,.75,.75,.7];
const lowerI = [-1.15,-1.25,-1.25,-1.15,.7,-1.3,-1.3,-1.35,-1.3];
const lowerGapI = [-1,-1.05,-1.05,-.35,-.25,-1.1,-1.05,-1.1];
const linesI1 = [1.5,.9,1.9,.6,2.2,.8,1.6,.7,.4];
const linesI2 = [-1.3,1.7,1.1,1.2,2.5,.3,.6,1.6,1.3];
const linesI3 = [.4,-1.5,-1.3,-1.3,.3,-1.4,-1.5,-1.75,-1.5];
const linesI4 = [1.2,1.4,2,.3,1.8,1.2,-.4,1.2,1];
const linesI5 = [-.7,1.1,1.3,-.5,1.2,-.8,1.7,-1.4,.8];
const linesI6 = [.9,.5,.6,.9,2,.9,.8,.2,.6];

const meanJ = [2.5,-.25,-.15,-.5,-.2,-.2,-.25,-.27,-.28];
const upperJ = [2.6,1.95,1.65,1.25,1.7,1.55,1.55,1.5,1.25];
const upperGapJ = [2,1.2,1.1,.85,1,1.2,1.2,.9];
const lowerJ = [1,-.7,-.4,-1,-.3,-.75,-.45,-.35,-.8];
const lowerGapJ = [-.1,-.4,-.45,-.55,-.3,-.45,-.35,-.4];
const linesJ1 = [2.6,2.15,1.1,1.3,2,1,1.6,1,1.4];
const linesJ2 = [.3,.9,1.9,.7,1.5,1.7,1.2,1.5,1];
const linesJ3 = [1.2,2,1.6,-1.1,-.4,-.8,.3,.5,1.55];
const linesJ4 = [1.5,-.7,-.5,.5,.8,.7,-.5,-.4,-.8];
const linesJ5 = [2,1.6,.8,1.4,.6,1.5,1.4,1.5,.4];

const panelData = [
 {mean:meanB,upper:upperB,upperGap:upperGapB,lower:lowerB,lowerGap:lowerGapB,lines:[linesB1,linesB2,linesB3,linesB4,linesB5,linesB6,linesB7]},
 {mean:meanC,upper:upperC,upperGap:upperGapC,lower:lowerC,lowerGap:lowerGapC,lines:[linesC1,linesC2,linesC3,linesC4,linesC5,linesC6]},
 {mean:meanD,upper:upperD,upperGap:upperGapD,lower:lowerD,lowerGap:lowerGapD,lines:[linesD1,linesD2,linesD3,linesD4,linesD5,linesD6]},
 {mean:meanE,upper:upperE,upperGap:upperGapE,lower:lowerE,lowerGap:lowerGapE,lines:[linesE1,linesE2,linesE3,linesE4,linesE5,linesE6]},
 {mean:meanF,upper:upperF,upperGap:upperGapF,lower:lowerF,lowerGap:lowerGapF,lines:[linesF1,linesF2,linesF3,linesF4,linesF5,linesF6]},
 {mean:meanG,upper:upperG,upperGap:upperGapG,lower:lowerG,lowerGap:lowerGapG,lines:[linesG1,linesG2,linesG3,linesG4,linesG5]},
 {mean:meanH,upper:upperH,upperGap:upperGapH,lower:lowerH,lowerGap:lowerGapH,lines:[linesH1,linesH2,linesH3,linesH4,linesH5,linesH6]},
 {mean:meanI,upper:upperI,upperGap:upperGapI,lower:lowerI,lowerGap:lowerGapI,lines:[linesI1,linesI2,linesI3,linesI4,linesI5,linesI6]},
 {mean:meanJ,upper:upperJ,upperGap:upperGapJ,lower:lowerJ,lowerGap:lowerGapJ,lines:[linesJ1,linesJ2,linesJ3,linesJ4,linesJ5]}
];

// ===== Layout and styles (not data) =====
const NS = 'http://www.w3.org/2000/svg';
const zColors = [[181,22,43],[238,42,38],[255,90,60],[253,170,96],[254,231,149],[245,245,188],[220,240,244],[187,226,236],[143,202,223],[90,168,205],[43,125,181],[30,80,160],[40,48,143]];
const classColors = ['#ED1C2E','#EE3A24','#F15A22','#F47A18','#F38C10','#E9A800','#E5B800','#D2CC00','#98C800','#4CBC00','#00B21A','#00A44A','#0E8F6B','#0C7FA0','#0A60B0','#1F4FA8','#44409C','#6E3A9E'];
const clusterColors = ['#4A1E07','#FF0010','#002B94','#00AD2A','#912D8F','#DCE000','#00A79D','#FFB400','#D6A05F'];
const columnEdges = [1157,1286,1417,1544,1674,1803,1926,2056,2186,2308];
const heatEdges = [104,522,996,1552,2027,2595,2976,3432,3883,4254];
const barEdges = [111,522,996,1552,2019,2603,2967,3435,3888,4254];
const separatorPattern = [0,1,0,0,1,0,1,1,0,0,0,1,0,1,0,0,1,1,0,0,1,0,0,0,1,0,1];
const leafX = 1079;
const panelBoxes = [
 {top:114,bottom:481,shift:0},{top:586,bottom:953,shift:0},{top:1055,bottom:1423,shift:0},
 {top:1524,bottom:1891,shift:-8},{top:1995,bottom:2364,shift:0},{top:2468,bottom:2835,shift:0},
 {top:2941,bottom:3306,shift:0},{top:3410,bottom:3778,shift:-8},{top:3880,bottom:4247,shift:0}
];
const frameLeft = 2748, frameRight = 3920, orange = '#DB9F4B', navy = '#04476F';

function hex(c){return 'rgb('+c.map(function(v){return Math.round(v);}).join(',')+')';}
function zColor(z){
  if(z>=zStops[0]) return hex(zColors[0]);
  for(var i=1;i<zStops.length;i++){
    if(z>=zStops[i]){
      var t=(z-zStops[i])/(zStops[i-1]-zStops[i]);
      return hex(zColors[i].map(function(v,k){return v+(zColors[i-1][k]-v)*t;}));
    }
  }
  return hex(zColors[zColors.length-1]);
}
function make(tag,attrs){
  var el=document.createElementNS(NS,tag);
  for(var k in attrs){el.setAttribute(k,attrs[k]);}
  return el;
}

// Colourbar gradient
(function(){
  var g=document.getElementById('zGrad');
  zStops.forEach(function(z,i){
    var s=make('stop',{offset:(2.38-z)/(2.38+2.02),'stop-color':hex(zColors[i])});
    
    
    g.appendChild(s);
  });
})();

// Class legend swatches
(function(){
  var g=document.getElementById('classLegend');
  classColors.forEach(function(c,i){
    var r=make('rect',{x:753,y:223+i*66.6,width:62,height:67,fill:c});
    
    
    g.appendChild(r);
  });
})();

// Heatmap cells
(function(){
  var g=document.getElementById('heat');
  heatColumns.forEach(function(col,c){
    var x0=columnEdges[c],x1=columnEdges[c+1];
    col.forEach(function(bands,k){
      var total=0,i;
      for(i=1;i<bands.length;i+=2){total+=bands[i];}
      var top=heatEdges[k],h=heatEdges[k+1]-top,acc=0;
      for(i=0;i<bands.length;i+=2){
        var y0=top+acc/total*h;
        acc+=bands[i+1];
        var y1=top+acc/total*h;
        var r=make('rect',{x:x0,y:y0.toFixed(1),width:x1-x0,height:(y1-y0+.6).toFixed(1),fill:zColor(bands[i])});
        
        
        g.appendChild(r);
      }
    });
  });
  // thin pale row separators (styling only)
  var t=document.getElementById('heatTexture');
  heatColumns.forEach(function(col,c){
    var d='',x0=columnEdges[c],x1=columnEdges[c+1];
    clusterRowCounts.forEach(function(n,k){
      var top=heatEdges[k],step=(heatEdges[k+1]-top)/n;
      for(var r=0;r<n;r++){
        if(separatorPattern[(r+c*5+k*3)%separatorPattern.length]){
          var y=top+(r+.5)*step;
          d+='M'+x0+' '+y.toFixed(1)+'H'+x1;
        }
      }
    });
    var p=make('path',{d:d,fill:'none',stroke:'#fff','stroke-opacity':.16,'stroke-width':1.8});
    
    
    t.appendChild(p);
  });
})();

// Class strip
(function(){
  var g=document.getElementById('classStrip');
  classBands.forEach(function(bands,k){
    var total=0,i;
    for(i=1;i<bands.length;i+=2){total+=bands[i];}
    var top=heatEdges[k],h=heatEdges[k+1]-top,acc=0;
    for(i=0;i<bands.length;i+=2){
      var y0=top+acc/total*h;
      acc+=bands[i+1];
      var y1=top+acc/total*h;
      var r=make('rect',{x:1084,y:y0.toFixed(1),width:50,height:(y1-y0+.6).toFixed(1),fill:classColors[bands[i]]});
      
      
      g.appendChild(r);
    }
  });
})();

// Cluster bar
(function(){
  var g=document.getElementById('clusterBar');
  clusterColors.forEach(function(c,i){
    var r=make('rect',{x:2333,y:barEdges[i],width:47,height:barEdges[i+1]-barEdges[i],fill:c});
    
    
    g.appendChild(r);
  });
})();

// Dendrogram
(function(){
  var g=document.getElementById('dendro'),leafPath='',branchPath='',topPath='';
  function interp(p,f){
    for(var i=1;i<p.length;i++){
      if(f<=p[i][0]){
        var t=(f-p[i-1][0])/(p[i][0]-p[i-1][0]);
        return p[i-1][1]+(p[i][1]-p[i-1][1])*t;
      }
    }
    return p[p.length-1][1];
  }
  dendroProfiles.forEach(function(profile,k){
    var n=clusterRowCounts[k],top=heatEdges[k],h=heatEdges[k+1]-top,step=h/n;
    for(var i=0;i<n;i++){
      var y=top+(i+.5)*step,mh=interp(profile,i/n);
      var xs=leafX-mh*(1-leafStagger[i%leafStagger.length]*.85);
      leafPath+='M'+xs.toFixed(1)+' '+y.toFixed(1)+'H'+leafX;
      if(i%2===0){branchPath+='M'+xs.toFixed(1)+' '+y.toFixed(1)+'V'+(y+step*2).toFixed(1);}
      if(i%6===0){
        var gx=leafX-mh;
        branchPath+='M'+gx.toFixed(1)+' '+y.toFixed(1)+'H'+xs.toFixed(1);
        var nextH=interp(profile,Math.min(1,(i+6)/n));
        if(Math.abs(nextH-mh)<60){branchPath+='M'+gx.toFixed(1)+' '+y.toFixed(1)+'V'+(y+6*step).toFixed(1)+'H'+(leafX-nextH).toFixed(1);}
      }
    }
  });
  function walk(node){
    if(node.c!==undefined){
      var top=heatEdges[node.c],hh=heatEdges[node.c+1]-top,ay=top+node.f*hh,lx=leafX-node.h;
      if(node.h<165||node.f<.9){
        var span=Math.min(ay-top+20,hh*.4);
        topPath+='M'+lx+' '+(ay-span).toFixed(1)+'V'+(ay+span).toFixed(1);
        branchPath+='M'+lx+' '+(ay-span).toFixed(1)+'H'+(lx+40);
      }
      return {x:lx,y:ay};
    }
    var a=walk(node.a),b=walk(node.b),x=leafX-node.h,y=(a.y+b.y)/2;
    topPath+='M'+a.x+' '+a.y.toFixed(1)+'H'+x+'V'+b.y.toFixed(1)+'H'+b.x;
    return {x:x,y:y};
  }
  walk(dendroTree);
  var p1=make('path',{d:leafPath,fill:'none',stroke:'#6c6c6c','stroke-width':2});
  
  
  g.appendChild(p1);
  var p2=make('path',{d:branchPath,fill:'none',stroke:'#333','stroke-width':1.6});
  
  
  g.appendChild(p2);
  var p3=make('path',{d:topPath,fill:'none',stroke:'#666','stroke-width':3});
  
  
  g.appendChild(p3);
})();

// Profile panels
(function(){
  var root=document.getElementById('panels');
  function xAt(i){return 2816+i*129.1;}
  panelBoxes.forEach(function(box,p){
    var data=panelData[p],g=make('g',{});
    
    
    function yAt(z){return box.bottom-(z+2)*(box.bottom-box.top)/5;}
    function pts(vals){return vals.map(function(z,i){return xAt(i).toFixed(1)+','+yAt(z).toFixed(1);}).join(' ');}
    function edge(peaks,gaps){
      var out=[];
      peaks.forEach(function(z,i){
        out.push(xAt(i).toFixed(1)+','+yAt(z).toFixed(1));
        if(i<gaps.length){out.push(xAt(i+.5).toFixed(1)+','+yAt(gaps[i]).toFixed(1));}
      });
      return out;
    }
    // frame
    var frame=make('rect',{x:frameLeft,y:box.top,width:frameRight-frameLeft,height:box.bottom-box.top,fill:'none',stroke:orange,'stroke-width':9});
    
    
    g.appendChild(frame);
    // y ticks
    yTickValues.forEach(function(z,i){
      var ty=yAt(z);
      var t=make('line',{x1:frameLeft-14,x2:frameLeft,y1:ty,y2:ty,stroke:orange,'stroke-width':7});
      
      
      g.appendChild(t);
      var lab=make('text',{x:2727,y:ty+16-(z===-2?7:0),'font-size':47,'text-anchor':'end'});
      lab.textContent=yTickLabels[i];
      
      
      g.appendChild(lab);
    });
    // x ticks
    for(var i=0;i<9;i++){
      var xt=xAt(i)+box.shift;
      var t2=make('line',{x1:xt,x2:xt,y1:box.bottom+4,y2:box.bottom+15,stroke:orange,'stroke-width':7});
      
      
      g.appendChild(t2);
    }
    // individual profile lines
    data.lines.forEach(function(vals){
      var l=make('polyline',{points:pts(vals),fill:'none',stroke:orange,'stroke-opacity':.45,'stroke-width':20,'stroke-linejoin':'round','stroke-linecap':'round'});
      
      
      g.appendChild(l);
    });
    // dense band of overlapping profiles, with notched edges between species
    var bandPoints=edge(data.upper,data.upperGap).concat(edge(data.lower,data.lowerGap).reverse()).join(' ');
    var band=make('polygon',{points:bandPoints,fill:orange,stroke:orange,'stroke-width':12,'stroke-linejoin':'round'});
    
    
    g.appendChild(band);
    // mean line
    var m=make('polyline',{points:pts(data.mean),fill:'none',stroke:navy,'stroke-width':17,'stroke-linejoin':'round','stroke-linecap':'round'});
    
    
    g.appendChild(m);
    root.appendChild(g);
  });
})();
</script>
</body>
</html>
